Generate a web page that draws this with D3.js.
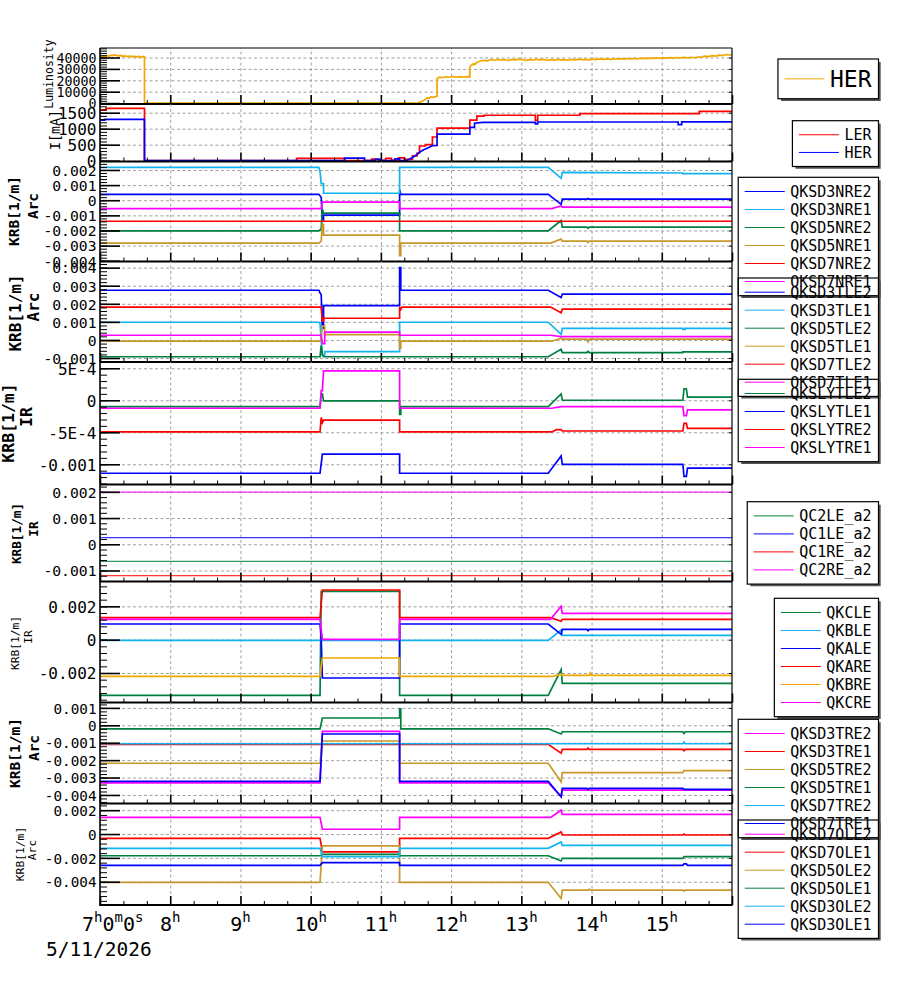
<!DOCTYPE html>
<html><head><meta charset="utf-8">
<script src="https://cdn.jsdelivr.net/npm/d3@7"></script>
<style>
body{margin:0;background:#fff;}
svg text{font-family:"DejaVu Sans Mono",monospace;fill:#000;}
</style></head>
<body><svg id="c" width="900" height="984"></svg>
<script>
// ---------------- DATA ----------------
const hourTicks = [7,8,9,10,11,12,13,14,15];
const hourLabels = ["7","8","9","10","11","12","13","14","15"];
const dateLabel = "5/11/2026";

const lumTickLabels = ["0","10000","20000","30000","40000"];
const curTickLabels = ["0","500","1000","1500"];
const p3TickLabels = ["-0.004","-0.003","-0.002","-0.001","0","0.001","0.002"];
const p4TickLabels = ["-0.001","0","0.001","0.002","0.003","0.004"];
const p5TickLabels = ["-0.001","-5E-4","0","5E-4"];
const p6TickLabels = ["-0.001","0","0.001","0.002"];
const p7TickLabels = ["-0.002","0","0.002"];
const p8TickLabels = ["-0.004","-0.003","-0.002","-0.001","0","0.001"];
const p9TickLabels = ["-0.004","-0.002","0","0.002"];

const lumHER = [["7:00",40200],["7:01",41000],["7:02",40600],["7:03",41300],["7:05",40900],["7:06",41600],["7:08",41200],["7:09",42100],["7:11",41700],["7:12",42400],["7:14",41900],["7:16",41500],["7:18",41800],["7:19",41100],["7:21",41400],["7:23",40900],["7:25",41200],["7:27",40700],["7:29",41000],["7:31",40600],["7:33",40900],["7:35",40500],["7:37",40800],["7:38",40600],["7:38",0],["11:31",0],["11:33",600],["11:35",1500],["11:37",2600],["11:38",3500],["11:40",4800],["11:41",4200],["11:43",5400],["11:45",5000],["11:47",5800],["11:48",5800],["11:48",21500],["11:50",22800],["11:53",22400],["11:56",23100],["11:59",22700],["12:02",23300],["12:05",22800],["12:08",23200],["12:11",22900],["12:14",23300],["12:16",23000],["12:16",31500],["12:17",33000],["12:19",34500],["12:20",33800],["12:22",35800],["12:25",36900],["12:28",37500],["12:31",37100],["12:34",38200],["12:37",37600],["12:40",38400],["12:43",37800],["12:46",38100],["12:49",37400],["12:52",38300],["12:55",37900],["12:58",38600],["13:01",38000],["13:04",37500],["13:07",38200],["13:10",37800],["13:13",38500],["13:16",37900],["13:19",38300],["13:22",37600],["13:25",38100],["13:28",37700],["13:31",38400],["13:34",37900],["13:37",38200],["13:40",37600],["13:43",38300],["13:46",38000],["13:49",38600],["13:52",38100],["13:55",38400],["13:58",37900],["14:01",38500],["14:04",38200],["14:07",38700],["14:10",38300],["14:13",38800],["14:16",38400],["14:19",38900],["14:22",38500],["14:25",39000],["14:28",38600],["14:31",39100],["14:34",38800],["14:37",39300],["14:40",38900],["14:43",39400],["14:46",39000],["14:49",39500],["14:52",39200],["14:55",39700],["14:58",39300],["15:01",39800],["15:04",39400],["15:07",39900],["15:10",39500],["15:13",40000],["15:16",39600],["15:19",40100],["15:22",39700],["15:25",40200],["15:28",39800],["15:31",40300],["15:34",40600],["15:37",41200],["15:40",40800],["15:43",41600],["15:46",41200],["15:49",42100],["15:52",41700],["15:55",42600],["15:58",42200],["16:00",42400]];

const curLER = [["7:00",1580],["7:05",1580],["7:05",1635],["7:38",1635],["7:38",0],["9:48",0],["9:48",70],["10:29",70],["10:29",0],["10:52",0],["10:52",50],["10:58",50],["10:58",10],["11:04",10],["11:04",70],["11:09",70],["11:09",20],["11:15",20],["11:15",90],["11:20",90],["11:20",40],["11:27",40],["11:27",150],["11:31",150],["11:31",240],["11:33",240],["11:33",460],["11:38",460],["11:38",500],["11:44",500],["11:44",740],["11:48",740],["11:48",1020],["12:16",1020],["12:16",1270],["12:22",1270],["12:22",1390],["12:28",1390],["12:28",1420],["13:12",1420],["13:12",1260],["13:14",1260],["13:14",1420],["13:50",1420],["13:50",1470],["15:32",1470],["15:32",1540],["16:00",1540]];
const curHER = [["7:00",1265],["7:04",1265],["7:04",1290],["7:38",1290],["7:38",0],["10:29",0],["10:29",80],["10:46",80],["10:46",0],["10:55",0],["10:55",40],["11:00",40],["11:00",0],["11:12",0],["11:12",60],["11:16",60],["11:16",0],["11:22",0],["11:25",60],["11:28",120],["11:31",200],["11:34",290],["11:37",350],["11:40",400],["11:44",470],["11:48",480],["11:48",830],["12:16",830],["12:16",1040],["12:20",1040],["12:20",1170],["12:27",1200],["13:12",1200],["13:12",1150],["13:14",1150],["13:14",1210],["15:14",1210],["15:14",1130],["15:17",1130],["15:17",1215],["16:00",1215]];

const QKSD3NRE2 = [["7:00",0.00039],["10:07",0.00039],["10:09",0.0002],["10:10",-0.0013],["10:11",-0.0013],["10:11",-0.00098],["11:16",-0.00098],["11:16",0.0007],["11:17",0.00039],["13:23",0.00039],["13:34",-0.00027],["13:35",0.00007],["13:56",0.00007],["13:57",0.00012],["13:58",0.00007],["16:00",0.00007]];
const QKSD3NRE1 = [["7:00",0.00217],["10:07",0.00217],["10:08",0.0019],["10:09",0.0011],["10:11",0.0011],["10:11",0.00046],["11:16",0.00046],["11:16",0.00217],["13:23",0.00217],["13:34",0.00145],["13:35",0.00184],["15:18",0.0018],["15:18",0.00176],["16:00",0.00176]];
const QKSD5NRE2 = [["7:00",-0.00202],["10:07",-0.00202],["10:09",-0.0019],["10:10",-0.0006],["10:11",-0.00085],["11:16",-0.00085],["11:16",-0.00202],["13:23",-0.00202],["13:34",-0.00135],["13:35",-0.00178],["13:56",-0.00178],["13:57",-0.00186],["13:58",-0.00178],["16:00",-0.00178]];
const QKSD5NRE1 = [["7:00",-0.00283],["10:07",-0.00283],["10:09",-0.0027],["10:10",-0.0016],["10:11",-0.0016],["10:11",-0.0023],["11:16",-0.0023],["11:16",-0.00366],["11:17",-0.00366],["11:17",-0.00283],["13:25",-0.00283],["13:34",-0.00257],["13:35",-0.0027],["13:56",-0.0027],["13:57",-0.0028],["13:58",-0.0027],["16:00",-0.0027]];
const QKSD7NRE2 = [["7:00",-0.00139],["16:00",-0.00139]];
const QKSD7NRE1 = [["7:00",-0.00055],["10:09",-0.00055],["10:10",-0.00013],["11:16",-0.00013],["11:16",-0.00055],["13:26",-0.00055],["13:34",-0.00038],["13:35",-0.00046],["16:00",-0.00046]];

const QKSD3TLE2 = [["7:00",0.00275],["10:07",0.00275],["10:08",0.0026],["10:09",0.0025],["10:10",0.00064],["10:11",0.00064],["10:11",0.0019],["11:16",0.0019],["11:16",0.0040],["11:17",0.0040],["11:17",0.00275],["13:23",0.00275],["13:34",0.00235],["13:35",0.00254],["16:00",0.00254]];
const QKSD3TLE1 = [["7:00",0.00098],["10:07",0.00098],["10:08",0.0009],["10:10",-0.00087],["10:12",-0.00087],["10:12",-0.00065],["11:16",-0.00065],["11:16",0.00098],["13:23",0.00098],["13:34",0.00031],["13:35",0.00064],["15:18",0.00064],["15:18",0.00058],["15:20",0.00058],["15:20",0.00064],["16:00",0.00064]];
const QKSD5TLE2 = [["7:00",-0.00093],["10:08",-0.00093],["10:09",-0.0003],["10:10",-0.0008],["10:11",-0.00093],["11:16",-0.00093],["13:23",-0.00093],["13:34",-0.00052],["13:35",-0.0007],["13:56",-0.0007],["13:57",-0.00063],["13:58",-0.0007],["15:18",-0.0007],["15:18",-0.00066],["16:00",-0.00066]];
const QKSD5TLE1 = [["7:00",-0.00007],["10:08",-0.00007],["10:09",0.0001],["10:10",0.00077],["10:12",0.00077],["10:12",0.0003],["11:16",0.0003],["11:16",-0.00045],["11:17",-0.00045],["11:17",-0.00007],["13:26",-0.00007],["13:34",0.0001],["13:35",0.00005],["13:56",0.00005],["13:57",-0.0001],["13:58",0.00005],["16:00",0.00005]];
const QKSD7TLE2 = [["7:00",0.00182],["10:09",0.00182],["10:10",0.00105],["10:11",0.00105],["10:11",0.0012],["11:16",0.0012],["11:16",0.00182],["11:17",0.0017],["11:18",0.00182],["13:25",0.00182],["13:34",0.0015],["13:35",0.0017],["16:00",0.0017]];
const QKSD7TLE1 = [["7:00",0.00026],["10:09",0.00026],["10:10",-0.0002],["10:12",-0.0002],["10:12",0.00043],["11:16",0.00043],["11:16",0.00026],["13:25",0.00026],["13:34",0.00018],["16:00",0.00018]];

const QKSLYTLE2 = [["7:00",-0.0001],["10:08",-0.0001],["10:09",0.0001],["10:10",0.0001],["10:11",-0.00001],["11:16",-0.00001],["11:16",-0.00022],["11:17",-0.00022],["11:17",-0.0001],["13:23",-0.0001],["13:34",0.0001],["13:35",0.0],["15:18",0.0],["15:19",0.00018],["15:21",0.00018],["15:22",0.00005],["16:00",0.00005]];
const QKSLYTLE1 = [["7:00",-0.00114],["10:08",-0.00114],["10:10",-0.00084],["11:16",-0.00084],["11:16",-0.00114],["13:23",-0.00114],["13:34",-0.00087],["13:35",-0.001],["15:18",-0.001],["15:19",-0.00119],["15:21",-0.00119],["15:22",-0.00106],["16:00",-0.00106]];
const QKSLYTRE2 = [["7:00",-0.000495],["10:08",-0.000495],["10:09",-0.00027],["10:10",-0.00035],["10:11",-0.00031],["11:16",-0.00031],["11:16",-0.000495],["13:26",-0.000495],["13:30",-0.00046],["13:34",-0.00046],["13:35",-0.00048],["15:18",-0.00048],["15:19",-0.00036],["15:21",-0.00036],["15:22",-0.00044],["16:00",-0.00044]];
const QKSLYTRE1 = [["7:00",-0.000125],["10:08",-0.000125],["10:09",0.00015],["10:10",0.00015],["10:11",0.00046],["11:16",0.00046],["11:16",-0.000125],["13:26",-0.000125],["13:34",-0.0001],["15:18",-0.0001],["15:19",-0.00024],["15:21",-0.00024],["15:22",-0.00015],["16:00",-0.00015]];

const QC2LE_a2 = [["7:00",-0.00065],["16:00",-0.00065]];
const QC1LE_a2 = [["7:00",0.00025],["16:00",0.00025]];
const QC1RE_a2 = [["7:00",-0.0012],["16:00",-0.0012]];
const QC2RE_a2 = [["7:00",0.00199],["16:00",0.00199]];

const QKCLE = [["7:00",-0.00334],["10:08",-0.00334],["10:09",0.0029],["11:16",0.0029],["11:16",-0.00334],["13:23",-0.00334],["13:34",-0.0018],["13:35",-0.00262],["16:00",-0.00262]];
const QKBLE = [["7:00",-0.00004],["13:23",-0.00004],["13:34",0.00058],["13:35",0.00026],["16:00",0.00026]];
const QKALE = [["7:00",0.00094],["10:08",0.00094],["10:09",0.0001],["10:10",-0.0023],["11:16",-0.0023],["11:16",0.00094],["13:23",0.00094],["13:34",0.00032],["13:35",0.00062],["13:56",0.00062],["13:57",0.00054],["13:58",0.00062],["16:00",0.00062]];
const QKARE = [["7:00",0.00132],["10:08",0.00132],["10:10",0.00298],["11:16",0.00298],["11:16",0.00132],["13:25",0.00132],["13:34",0.0011],["13:35",0.00122],["16:00",0.00122]];
const QKBRE = [["7:00",-0.0022],["10:08",-0.0022],["10:09",-0.0016],["10:10",-0.0011],["11:16",-0.0011],["11:16",-0.0022],["13:27",-0.0022],["13:34",-0.00206],["13:35",-0.00214],["13:58",-0.00214],["13:59",-0.002],["14:00",-0.00214],["16:00",-0.00214]];
const QKCRE = [["7:00",0.00122],["10:08",0.00122],["10:10",0.00002],["11:16",0.00002],["11:16",0.00122],["13:25",0.00122],["13:34",0.002],["13:35",0.00158],["16:00",0.00158]];

const QKSD3TRE2 = [["7:00",-0.0033],["10:08",-0.0033],["10:10",-0.00035],["11:16",-0.00035],["11:16",-0.0033],["13:23",-0.0033],["13:34",-0.0041],["13:35",-0.00372],["16:00",-0.00372]];
const QKSD3TRE1 = [["7:00",-0.00109],["13:23",-0.00109],["13:34",-0.0016],["13:35",-0.00138],["13:56",-0.00138],["13:57",-0.0013],["13:58",-0.00138],["15:18",-0.00138],["15:19",-0.00146],["15:20",-0.00138],["16:00",-0.00138]];
const QKSD5TRE2 = [["7:00",-0.00218],["10:08",-0.00218],["10:10",-0.0009],["11:16",-0.0009],["11:16",-0.00218],["13:23",-0.00218],["13:34",-0.00325],["13:35",-0.00272],["15:18",-0.00272],["15:19",-0.0026],["16:00",-0.0026]];
const QKSD5TRE1 = [["7:00",-0.0002],["10:08",-0.0002],["10:10",0.00042],["11:16",0.00042],["11:16",0.00095],["11:17",0.00095],["11:17",-0.0002],["13:23",-0.0002],["13:34",-0.0005],["13:35",-0.00037],["15:18",-0.00037],["15:19",-0.00047],["15:20",-0.00037],["16:00",-0.00037]];
const QKSD7TRE2 = [["7:00",-0.00106],["15:18",-0.00106],["15:19",-0.00097],["15:20",-0.00106],["16:00",-0.00106]];
const QKSD7TRE1 = [["7:00",-0.00322],["10:08",-0.00322],["10:10",-0.0005],["11:16",-0.0005],["11:16",-0.00322],["13:23",-0.00322],["13:34",-0.0041],["13:35",-0.00362],["13:56",-0.00362],["13:57",-0.0037],["13:58",-0.00362],["15:18",-0.00362],["15:19",-0.00368],["16:00",-0.00368]];

const QKSD7OLE2 = [["7:00",0.0014],["10:08",0.0014],["10:10",0.0004],["11:16",0.0004],["11:16",0.0014],["13:25",0.0014],["13:34",0.002],["13:35",0.00165],["16:00",0.00165]];
const QKSD7OLE1 = [["7:00",-0.00036],["10:08",-0.00036],["10:10",-0.0015],["11:16",-0.0015],["11:16",-0.00036],["13:23",-0.00036],["13:34",0.00018],["13:35",-0.00008],["15:18",-0.00008],["15:19",-0.00001],["15:20",-0.00008],["16:00",-0.00008]];
const QKSD5OLE2 = [["7:00",-0.00405],["10:08",-0.00405],["10:10",-0.001],["11:16",-0.001],["11:16",-0.00405],["13:23",-0.00405],["13:34",-0.0054],["13:35",-0.0047],["13:57",-0.0047],["13:58",-0.00462],["13:59",-0.0047],["15:18",-0.0047],["15:19",-0.00478],["15:20",-0.0047],["16:00",-0.0047]];
const QKSD5OLE1 = [["7:00",-0.00182],["10:08",-0.00182],["10:10",-0.0017],["11:16",-0.0017],["11:16",-0.00182],["13:23",-0.00182],["13:34",-0.00226],["13:35",-0.00204],["15:18",-0.00204],["15:19",-0.0019],["16:00",-0.0019]];
const QKSD3OLE2 = [["7:00",-0.0012],["10:08",-0.0012],["10:10",-0.0019],["11:16",-0.0019],["11:16",-0.0012],["13:23",-0.0012],["13:34",-0.00066],["13:35",-0.00095],["16:00",-0.00095]];
const QKSD3OLE1 = [["7:00",-0.00262],["10:08",-0.00262],["10:10",-0.0024],["11:16",-0.0024],["11:16",-0.00262],["15:18",-0.00262],["15:19",-0.0025],["15:21",-0.0025],["15:22",-0.00262],["16:00",-0.00262]];

// ---------------- STYLE / LAYOUT ----------------
const C = {blue:"#0000ff", cyan:"#10b4f0", green:"#008040", gold:"#c8982a", orange:"#f0a800", red:"#ff0000", magenta:"#ff00ff"};
const L = 100, R = 732;
const hr = s => { const [h,m] = s.split(":").map(Number); return h + m/60; };

const panels = [
 {top:48, bottom:104, domain:[-790,48330], labels:lumTickLabels, minor:2000, fs:13.3, lw:1.7,
  series:[["HER",lumHER,C.orange]], legend:{top:59, fs:23, rowH:29.3},
  titles:[["Luminosity",52.5,74,11.5,false]]},
 {top:104, bottom:161.5, domain:[-25,1772], labels:curTickLabels, minor:100, fs:16, lw:1.7,
  series:[["LER",curLER,C.red],["HER",curHER,C.blue]], legend:{top:120.7, fs:15, rowH:17.7},
  titles:[["I[mA]",60,130,13.3,false]]},
 {top:161.5, bottom:261.5, domain:[-0.00405,0.00256], labels:p3TickLabels, minor:0.0002, fs:14.7, lw:1.7,
  series:[["QKSD3NRE2",QKSD3NRE2,C.blue],["QKSD3NRE1",QKSD3NRE1,C.cyan],["QKSD5NRE2",QKSD5NRE2,C.green],["QKSD5NRE1",QKSD5NRE1,C.gold],["QKSD7NRE2",QKSD7NRE2,C.red],["QKSD7NRE1",QKSD7NRE1,C.magenta]],
  legend:{top:177.3, fs:15, rowH:18},
  titles:[["KRB[1/m]",18.8,211,14.5,true],["Arc",38,206,14.5,true]]},
 {top:261.5, bottom:362, domain:[-0.00122,0.00434], labels:p4TickLabels, minor:0.0002, fs:14.7, lw:1.7,
  series:[["QKSD3TLE2",QKSD3TLE2,C.blue],["QKSD3TLE1",QKSD3TLE1,C.cyan],["QKSD5TLE2",QKSD5TLE2,C.green],["QKSD5TLE1",QKSD5TLE1,C.gold],["QKSD7TLE2",QKSD7TLE2,C.red],["QKSD7TLE1",QKSD7TLE1,C.magenta]],
  legend:{top:278, fs:15, rowH:18},
  titles:[["KRB[1/m]",20.7,313,16,true],["Arc",39,307,16,true]]},
 {top:362, bottom:484.5, domain:[-0.001316,0.000598], labels:p5TickLabels, minor:0.0001, fs:16, lw:1.7,
  series:[["QKSLYTLE2",QKSLYTLE2,C.green],["QKSLYTLE1",QKSLYTLE1,C.blue],["QKSLYTRE2",QKSLYTRE2,C.red],["QKSLYTRE1",QKSLYTRE1,C.magenta]],
  legend:{top:379.3, fs:15, rowH:18},
  titles:[["KRB[1/m]",13.5,423,16.5,true],["IR",31.5,417,16.5,true]]},
 {top:484.5, bottom:581.5, domain:[-0.00142,0.00228], labels:p6TickLabels, minor:0.0002, fs:14.7, lw:1,
  series:[["QC2LE_a2",QC2LE_a2,C.green],["QC1LE_a2",QC1LE_a2,C.blue],["QC1RE_a2",QC1RE_a2,C.red],["QC2RE_a2",QC2RE_a2,C.magenta]],
  legend:{top:501.7, fs:15, rowH:18},
  titles:[["KRB[1/m]",21,533.5,12.7,true],["IR",38,529,12.7,true]]},
 {top:581.5, bottom:702.5, domain:[-0.00377,0.00349], labels:p7TickLabels, minor:0.0004, fs:16, lw:1.7,
  series:[["QKCLE",QKCLE,C.green],["QKBLE",QKBLE,C.cyan],["QKALE",QKALE,C.blue],["QKARE",QKARE,C.red],["QKBRE",QKBRE,C.orange],["QKCRE",QKCRE,C.magenta]],
  legend:{top:598.3, fs:15, rowH:18},
  titles:[["KRB[1/m]",18.5,643,11.2,false],["IR",31.5,637,11.2,false]]},
 {top:702.5, bottom:803.5, domain:[-0.00449,0.00131], labels:p8TickLabels, minor:0.0002, fs:14.3, lw:1.7,
  series:[["QKSD3TRE2",QKSD3TRE2,C.magenta],["QKSD3TRE1",QKSD3TRE1,C.red],["QKSD5TRE2",QKSD5TRE2,C.gold],["QKSD5TRE1",QKSD5TRE1,C.green],["QKSD7TRE2",QKSD7TRE2,C.cyan],["QKSD7TRE1",QKSD7TRE1,C.blue]],
  legend:{top:719.3, fs:15, rowH:18},
  titles:[["KRB[1/m]",20,753,14.5,true],["Arc",39,748,14.5,true]]},
 {top:803.5, bottom:905, domain:[-0.00595,0.00256], labels:p9TickLabels, minor:0.0004, fs:14.3, lw:1.7,
  series:[["QKSD7OLE2",QKSD7OLE2,C.magenta],["QKSD7OLE1",QKSD7OLE1,C.red],["QKSD5OLE2",QKSD5OLE2,C.gold],["QKSD5OLE1",QKSD5OLE1,C.green],["QKSD3OLE2",QKSD3OLE2,C.cyan],["QKSD3OLE1",QKSD3OLE1,C.blue]],
  legend:{top:820, fs:15, rowH:18},
  titles:[["KRB[1/m]",23.5,854,11.3,false],["Arc",36,850,11.3,false]]}
];

// ---------------- DRAW ----------------
const svg = d3.select("#c");
const defs = svg.append("defs");
const x = d3.scaleLinear().domain([7,16]).range([L,R]);
const gridHours = [8,9,10,11,12,13,14,15];
const majorHours = d3.range(7,17);
const minorHours = d3.range(0,28).map(i=>7+i/3).filter(h=>Math.abs(h-Math.round(h))>1e-6);
const gPlots = svg.append("g");
const gLeg = svg.append("g");

function styleAxis(s, w){ s.select(".domain").remove(); s.selectAll("line").attr("stroke","#000").attr("stroke-width",w); }

panels.forEach((p,i)=>{
  const y = d3.scaleLinear().domain(p.domain).range([p.bottom,p.top]);
  const g = gPlots.append("g");
  const h = p.bottom - p.top;
  const major = p.labels.map(Number);
  const k0 = Math.ceil(p.domain[0]/p.minor - 1e-9), k1 = Math.floor(p.domain[1]/p.minor + 1e-9);
  const minor = d3.range(k0,k1+1).map(k=>k*p.minor);
  defs.append("clipPath").attr("id","cp"+i).append("rect").attr("x",L).attr("y",p.top).attr("width",R-L).attr("height",h);

  // grid
  g.append("g").attr("transform",`translate(${L},0)`)
    .call(d3.axisLeft(y).tickValues(major).tickSize(-(R-L)).tickFormat(""))
    .call(s=>{s.select(".domain").remove(); s.selectAll("line").attr("stroke","#a0a0a0").attr("stroke-dasharray","3,2.5");});
  g.append("g").attr("transform",`translate(0,${p.bottom})`)
    .call(d3.axisBottom(x).tickValues(gridHours).tickSize(-h).tickFormat(""))
    .call(s=>{s.select(".domain").remove(); s.selectAll("line").attr("stroke","#a0a0a0").attr("stroke-dasharray","3,2.5");});

  // data
  const line = d3.line().x(d=>x(hr(d[0]))).y(d=>y(d[1]));
  const dg = g.append("g").attr("clip-path",`url(#cp${i})`);
  p.series.forEach(s=>{
    dg.append("path").attr("d",line(s[1])).attr("fill","none").attr("stroke",s[2]).attr("stroke-width",p.lw);
  });

  // y ticks
  g.append("g").attr("transform",`translate(${L},0)`)
    .call(d3.axisLeft(y).tickValues(minor).tickSizeInner(-7).tickSizeOuter(0).tickFormat(""))
    .call(s=>styleAxis(s,1));
  g.append("g").attr("transform",`translate(${L},0)`)
    .call(d3.axisLeft(y).tickValues(major).tickSizeInner(-20).tickSizeOuter(0).tickPadding(3.5).tickFormat((d,j)=>p.labels[j]))
    .call(s=>{styleAxis(s,1.6); s.attr("font-family",null).attr("font-size",null);
      s.selectAll("text").attr("font-size",p.fs).attr("fill","#000").attr("dy","0.36em");});
  g.append("g").attr("transform",`translate(${R},0)`)
    .call(d3.axisRight(y).tickValues(major).tickSizeInner(-3).tickSizeOuter(0).tickFormat(""))
    .call(s=>styleAxis(s,1));
  // x ticks
  g.append("g").attr("transform",`translate(0,${p.bottom})`)
    .call(d3.axisBottom(x).tickValues(majorHours).tickSizeInner(-9).tickSizeOuter(0).tickFormat(""))
    .call(s=>styleAxis(s,1.6));
  g.append("g").attr("transform",`translate(0,${p.bottom})`)
    .call(d3.axisBottom(x).tickValues(minorHours).tickSizeInner(-4).tickSizeOuter(0).tickFormat(""))
    .call(s=>styleAxis(s,1));

  // separators
  g.append("line").attr("x1",L).attr("x2",R).attr("y1",p.bottom).attr("y2",p.bottom).attr("stroke","#000").attr("stroke-width",2.2);
  if(i===0) g.append("line").attr("x1",L).attr("x2",R).attr("y1",p.top).attr("y2",p.top).attr("stroke","#000").attr("stroke-width",1.2);

  // titles
  p.titles.forEach(t=>{
    svg.append("text").attr("transform",`translate(${t[1]},${t[2]}) rotate(-90)`)
      .attr("text-anchor","middle").attr("font-size",t[3]).attr("font-weight",t[4]?"bold":"normal").text(t[0]);
  });

  // legend
  const lg = p.legend, n = p.series.length;
  const boxR = 878.5, textR = 871.5;
  const lgG = gLeg.append("g");
  const texts = p.series.map((s,j)=> lgG.append("text").attr("font-size",lg.fs).text(s[0]));
  const tw = d3.max(texts, t=>t.node().getComputedTextLength());
  const tx = textR - tw, lx2 = tx - 5.5, lx1 = lx2 - 40, boxL = lx1 - 6.5;
  const boxH = lg.rowH*n + 10.4;
  lgG.insert("path",":first-child").attr("d",`M${boxR+1.2},${lg.top+3}V${lg.top+boxH+1.2}H${boxL+3}`)
    .attr("fill","none").attr("stroke","#555").attr("stroke-width",2);
  lgG.append("rect").attr("x",boxL).attr("y",lg.top).attr("width",boxR-boxL).attr("height",boxH)
    .attr("fill","none").attr("stroke","#000").attr("stroke-width",1.2);
  p.series.forEach((s,j)=>{
    const cy = lg.top + 5.2 + lg.rowH*(j+0.5);
    lgG.append("line").attr("x1",lx1).attr("x2",lx2).attr("y1",cy).attr("y2",cy).attr("stroke",s[2]).attr("stroke-width",1);
    texts[j].attr("x",tx).attr("y",cy + lg.fs*0.36);
  });
});

// frame verticals
gPlots.append("line").attr("x1",L).attr("x2",L).attr("y1",48).attr("y2",906).attr("stroke","#000").attr("stroke-width",1.6);
gPlots.append("line").attr("x1",R).attr("x2",R).attr("y1",48).attr("y2",906).attr("stroke","#000").attr("stroke-width",1.2);

// x labels
const xl = svg.append("g");
hourTicks.forEach((h,i)=>{
  const t = xl.append("text").attr("y",931);
  if(i===0){
    t.attr("x",82).attr("text-anchor","start");
    [["7",0],["h",1],["0",0],["m",1],["0",0],["s",1]].forEach(([s,sup],k)=>{
      t.append("tspan").attr("font-size",sup?14:20).attr("dy",k===0?0:(sup?-9:9)).text(s);
    });
  } else {
    t.attr("x",x(h)).attr("text-anchor","middle");
    t.append("tspan").attr("font-size",20).text(hourLabels[i]);
    t.append("tspan").attr("font-size",14).attr("dy",-9).text("h");
  }
});
svg.append("text").attr("x",46).attr("y",956).attr("font-size",19.5).text(dateLabel);
</script>
</body></html>
